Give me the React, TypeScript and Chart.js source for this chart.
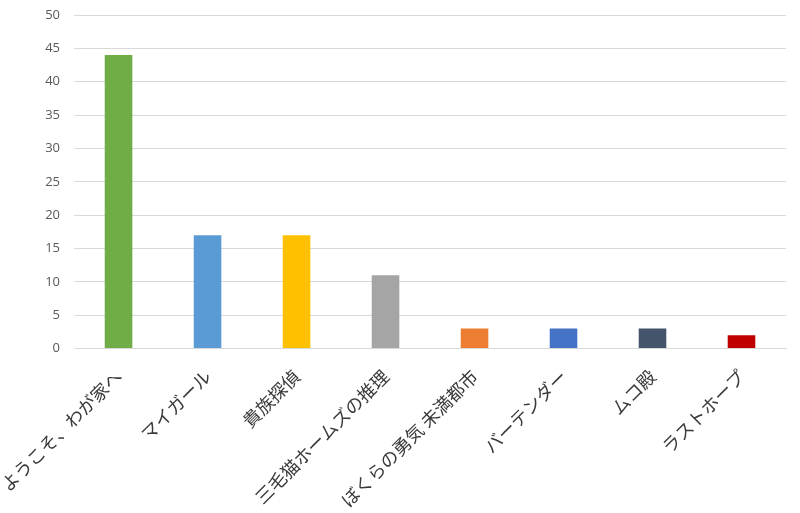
import React, { useEffect, useRef } from "react";
import Chart from "chart.js/auto";

const titles = [
  "ようこそ、わが家へ",
  "マイガール",
  "貴族探偵",
  "三毛猫ホームズの推理",
  "ぼくらの勇気 未満都市",
  "バーテンダー",
  "ムコ殿",
  "ラストホープ",
];
const counts = [44, 17, 17, 11, 3, 3, 3, 2];
const barColors = [
  "#70AD47",
  "#5B9BD5",
  "#FFC000",
  "#A5A5A5",
  "#ED7D31",
  "#4472C4",
  "#44546A",
  "#C00000",
];

const App = () => {
  const canvasRef = useRef(null);
  const chartRef = useRef(null);

  useEffect(() => {
    document.body.style.margin = "0";
    if (chartRef.current) {
      chartRef.current.destroy();
    }
    const ctx = canvasRef.current.getContext("2d");
    chartRef.current = new Chart(ctx, {
      type: "bar",
      data: {
        labels: titles,
        datasets: [
          {
            data: counts,
            backgroundColor: barColors,
            barPercentage: 0.62,
            categoryPercentage: 0.5,
          },
        ],
      },
      options: {
        responsive: false,
        animation: false,
        layout: { padding: { top: 15, right: 14, left: 0, bottom: 0 } },
        plugins: {
          legend: { display: false },
          tooltip: { enabled: false },
        },
        scales: {
          x: {
            grid: {
              color: "transparent",
              drawTicks: true,
              tickLength: 15,
            },
            border: { color: "#d9d9d9" },
            ticks: {
              minRotation: 45,
              maxRotation: 45,
              autoSkip: false,
              padding: 2,
              color: "#3a3a3a",
              font: { family: "'Noto Sans CJK JP'", size: 18 },
            },
          },
          y: {
            min: 0,
            max: 50,
            grid: {
              color: "#d9d9d9",
              drawTicks: true,
              tickLength: 11,
              tickColor: "transparent",
            },
            border: { display: false },
            ticks: {
              stepSize: 5,
              padding: 3,
              color: "#595959",
              font: { family: "'Open Sans'", size: 13 },
            },
          },
        },
      },
    });
    return () => {
      if (chartRef.current) {
        chartRef.current.destroy();
        chartRef.current = null;
      }
    };
  }, []);

  return (
    <div style={{ width: 800, height: 513, background: "#fff" }}>
      <canvas ref={canvasRef} width={800} height={513}></canvas>
    </div>
  );
};

export default App;
